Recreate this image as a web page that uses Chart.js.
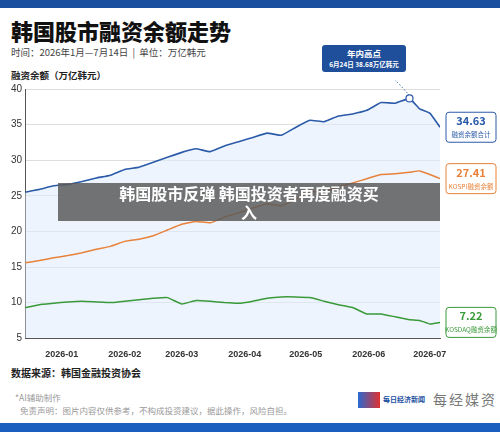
<!DOCTYPE html><html><head><meta charset="utf-8">
<script src="https://cdn.jsdelivr.net/npm/chart.js@4"></script>
<style>
body{margin:0;width:500px;height:432px;overflow:hidden;background:#fff;font-family:"Noto Sans CJK SC",sans-serif;position:relative}
.abs{position:absolute;white-space:nowrap}
</style></head><body>
<div class="abs" style="left:0;top:0;width:500px;height:8px;background:#1a4fa0"></div>
<div class="abs" style="left:0;top:423px;width:500px;height:9px;background:#1a5fc0"></div>
<div class="abs" style="left:11px;top:14px;font-size:22px;font-weight:900;color:#111">韩国股市融资余额走势</div>
<div class="abs" style="left:11px;top:45px;font-size:9.5px;color:#444">时间：2026年1月—7月14日 &nbsp;| &nbsp;单位：万亿韩元</div>
<div class="abs" style="left:11px;top:68px;font-size:9.5px;font-weight:bold;color:#222">融资余额（万亿韩元）</div>
<div class="abs" style="left:11px;top:365px;font-size:10px;font-weight:bold;color:#222">数据来源：韩国金融投资协会</div>
<div class="abs" style="left:15px;top:391px;font-size:8.5px;color:#999">*AI辅助制作</div>
<div class="abs" style="left:20px;top:404px;font-size:8.5px;color:#999">免责声明：图片内容仅供参考，不构成投资建议，据此操作，风险自担。</div>
<div class="abs" style="left:358px;top:392px;width:22px;height:16px;background:linear-gradient(90deg,#2a6ad0,#e03030)"></div>
<div class="abs" style="left:383px;top:394px;font-size:7px;font-weight:bold;color:#1a4fa0">每日经济新闻</div>
<div class="abs" style="left:433px;top:389px;font-size:14px;color:#777;letter-spacing:2px">每经媒资</div>
<div class="abs" style="left:0;top:80px;width:500px;height:283px"><canvas id="c"></canvas></div>
<div class="abs" style="left:322px;top:45px;width:84px;height:27px;background:#1f4f9a;border-radius:3px;color:#fff;text-align:center;font-weight:bold">
<div style="font-size:8.5px;line-height:12px;margin-top:2px">年内高点</div><div style="font-size:6.5px;line-height:10px">6月24日 38.68万亿韩元</div></div>
<div class="abs" style="left:58px;top:183px;width:382px;height:38px;background:rgba(90,90,90,0.85)"></div>
<div class="abs" style="left:58px;top:184px;width:382px;text-align:center;font-size:16px;font-weight:bold;color:#fff;line-height:19px">韩国股市反弹 韩国投资者再度融资买<br>入</div>
<script>
const days=[-18,-11,-4,3,10,17,24,31,38,45,52,59,66,73,80,87,94,101,108,115,122,129,136,143,150,157,164,171,176,181,186];
const total=[25.5,25.9,26.4,26.6,27.0,27.5,27.9,28.7,29.0,29.7,30.4,31.1,31.6,31.2,32.0,32.6,33.2,33.8,33.5,34.6,35.6,35.4,36.2,36.5,37.0,38.1,38.0,38.68,37.2,36.6,34.63];
const kospi=[15.6,15.9,16.3,16.6,17.0,17.5,17.9,18.6,18.9,19.4,20.2,21.0,21.4,21.2,22.0,22.6,23.3,23.9,23.6,24.5,25.6,25.5,26.3,26.8,27.4,28.0,28.1,28.3,28.5,28.0,27.41];
const kosdaq=[9.3,9.7,9.9,10.1,10.2,10.1,10.0,10.2,10.4,10.6,10.7,9.8,10.3,10.2,10.0,9.9,10.2,10.6,10.8,10.8,10.7,10.2,9.7,9.3,8.4,8.4,8.0,7.6,7.5,7.0,7.22];
const tickDays=[0,31,59,90,120,151,181];
const tickLabels=['2026-01','2026-02','2026-03','2026-04','2026-05','2026-06','2026-07'];
const pts=a=>a.map((v,i)=>({x:days[i],y:v}));
const endLabels={id:'el',afterDatasetsDraw(ch){const c=ch.ctx,y=ch.scales.y,x=ch.scales.x;
const items=[[total,'#2a5aa8','34.63','融资余额合计'],[kospi,'#e8823a','27.41','KOSPI融资余额'],[kosdaq,'#3a9a3a','7.22','KOSDAQ融资余额']];
items.forEach(([a,col,v,t])=>{const py=y.getPixelForValue(a[a.length-1]);c.save();c.fillStyle='#fff';c.strokeStyle=col;c.lineWidth=1;
c.beginPath();c.roundRect(446,py-15,50,30,3);c.fill();c.stroke();c.fillStyle=col;c.textAlign='center';c.font='bold 11px "Noto Sans CJK SC"';c.fillText(v,471,py-2);c.font='6.5px "Noto Sans CJK SC"';c.fillText(t,471,py+10);c.restore();});
const px=x.getPixelForValue(171),py=y.getPixelForValue(38.68);c.save();
c.strokeStyle='#2a5aa8';c.setLineDash([1.5,2]);c.beginPath();c.moveTo(px,py-3);c.quadraticCurveTo(px-8,py-12,px-18,py-22);c.stroke();c.setLineDash([]);
c.fillStyle='#fff';c.lineWidth=1.2;c.beginPath();c.arc(px,py,3.5,0,7);c.fill();c.stroke();c.restore();}};
new Chart(document.getElementById('c'),{type:'line',data:{datasets:[
{data:pts(total),order:3,borderColor:'#2a5aa8',backgroundColor:'rgba(225,236,252,0.6)',fill:'start',borderWidth:1.6,pointRadius:0,tension:0.1},
{data:pts(kospi),order:1,borderColor:'#e8823a',borderWidth:1.5,pointRadius:0,tension:0.1},
{data:pts(kosdaq),order:2,borderColor:'#3a9a3a',borderWidth:1.5,pointRadius:0,tension:0.1}]},
options:{responsive:true,maintainAspectRatio:false,animation:false,layout:{padding:{left:8,right:60,top:4,bottom:0}},
plugins:{legend:{display:false},tooltip:{enabled:false}},
scales:{x:{type:'linear',min:-18,max:186,afterBuildTicks:s=>{s.ticks=tickDays.map(v=>({value:v}))},
ticks:{callback:v=>tickLabels[tickDays.indexOf(v)],font:{size:9,weight:'bold'},color:'#333',maxRotation:0,autoSkip:false},
grid:{display:false,drawTicks:true},border:{color:'#555'}},
y:{min:5,max:40,ticks:{stepSize:5,font:{size:10},color:'#333'},grid:{color:'#ddd',tickLength:4,drawTicks:false},border:{color:'#555'}}}},
plugins:[endLabels]});
</script></body></html>
